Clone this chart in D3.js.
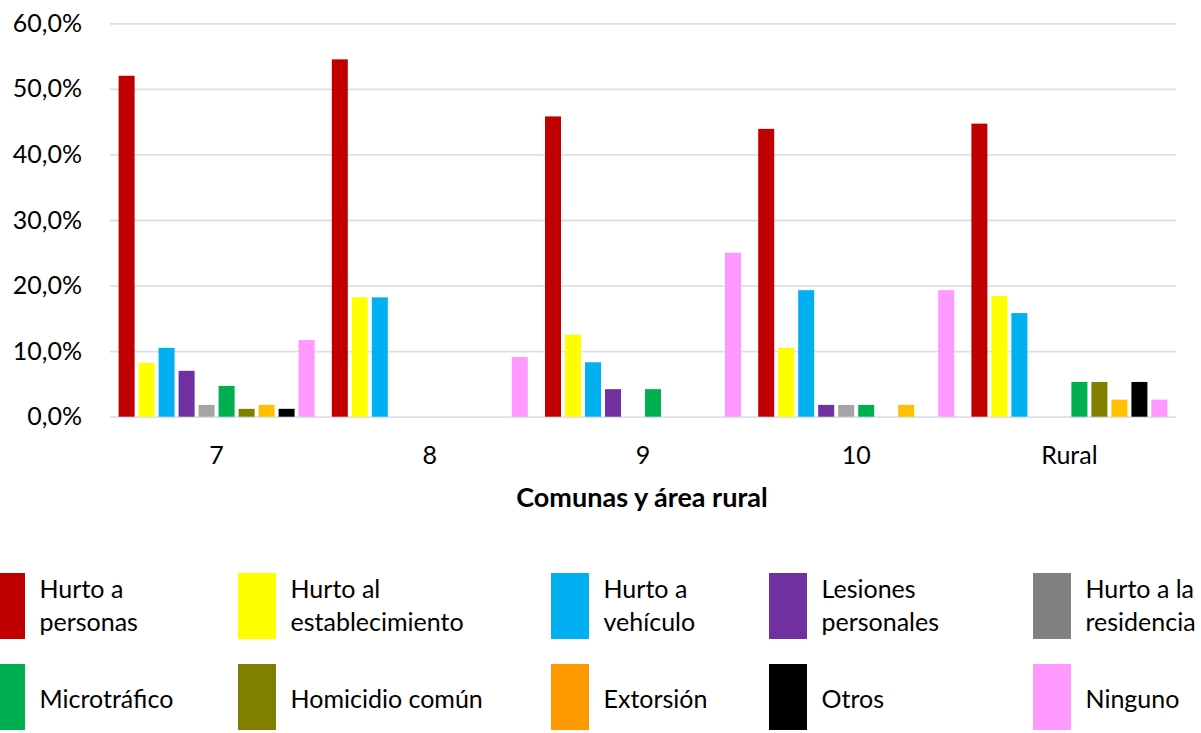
<!DOCTYPE html>
<html>
<head>
<meta charset="utf-8">
<script src="https://cdn.jsdelivr.net/npm/d3@7"></script>
<style>
  html, body { margin: 0; padding: 0; background: #fff; }
  svg { display: block; font-family: Lato, "Open Sans", sans-serif; }
</style>
</head>
<body>
<svg id="chart" width="1201" height="733"></svg>
<script>
// ---- Data ----
const categories = ["7", "8", "9", "10", "Rural"];
const seriesNames = [
  "Hurto a personas", "Hurto al establecimiento", "Hurto a vehículo",
  "Lesiones personales", "Hurto a la residencia", "Microtráfico",
  "Homicidio común", "Extorsión", "Otros", "Ninguno"
];
const hurtoPersonas        = [52.0, 54.5, 45.8, 43.9, 44.7];
const hurtoEstablecimiento = [8.2, 18.2, 12.5, 10.5, 18.4];
const hurtoVehiculo        = [10.5, 18.2, 8.3, 19.3, 15.8];
const lesionesPersonales   = [7.0, 0, 4.2, 1.8, 0];
const hurtoResidencia      = [1.8, 0, 0, 1.8, 0];
const microtrafico         = [4.7, 0, 4.2, 1.8, 5.3];
const homicidioComun       = [1.2, 0, 0, 0, 5.3];
const extorsion            = [1.8, 0, 0, 1.8, 2.6];
const otros                = [1.2, 0, 0, 0, 5.3];
const ninguno              = [11.7, 9.1, 25.0, 19.3, 2.6];
const yTicks = [0, 10, 20, 30, 40, 50, 60];
const xTitle = "Comunas y área rural";
const legendLines = [
  ["Hurto a", "personas"], ["Hurto al", "establecimiento"], ["Hurto a", "vehículo"],
  ["Lesiones", "personales"], ["Hurto a la", "residencia"],
  ["Microtráfico"], ["Homicidio común"], ["Extorsión"], ["Otros"], ["Ninguno"]
];

const seriesValues = [hurtoPersonas, hurtoEstablecimiento, hurtoVehiculo,
  lesionesPersonales, hurtoResidencia, microtrafico, homicidioComun,
  extorsion, otros, ninguno];

// ---- Styles ----
const barColors = ["#C00000", "#FFFF00", "#00B0F0", "#7030A0", "#A5A5A5",
  "#00B050", "#808000", "#FFC000", "#000000", "#FF99FF"];
const legendColors = ["#C00000", "#FFFF00", "#00B0F0", "#7030A0", "#808080",
  "#00B050", "#808000", "#FF9900", "#000000", "#FF99FF"];

const svg = d3.select("#chart");
const plot = { left: 110, right: 1176, top: 23.3, bottom: 416.7 };
const fontSize = 25;

const x0 = d3.scaleBand().domain(categories).range([plot.left, plot.right]).padding(0);
const bw = x0.bandwidth();
const x1 = d3.scaleBand().domain(seriesNames).range([6.6, bw - 6.6])
  .paddingInner(0.2).paddingOuter(0.1);
const y = d3.scaleLinear().domain([0, 60]).range([plot.bottom, plot.top]);

const locale = d3.formatLocale({ decimal: ",", thousands: ".", grouping: [3], currency: ["", ""] });
const fmt = v => locale.format(".1f")(v) + "%";

// gridlines
const yAxis = d3.axisLeft(y).tickValues(yTicks).tickFormat(fmt)
  .tickSize(-(plot.right - plot.left)).tickPadding(28);
const gy = svg.append("g").attr("transform", `translate(${plot.left},0)`).call(yAxis);
gy.select(".domain").remove();
gy.selectAll(".tick line").attr("stroke", "#DCDFE6").attr("stroke-width", 1.8);
gy.selectAll(".tick text").attr("font-size", fontSize).attr("fill", "#000")
  .attr("font-family", "Lato, sans-serif");

// bars
const groups = svg.append("g").selectAll("g").data(categories).join("g")
  .attr("transform", d => `translate(${x0(d)},0)`);
groups.selectAll("rect")
  .data((c, ci) => seriesNames.map((s, si) => ({ s, si, v: seriesValues[si][ci] })))
  .join("rect")
  .filter(d => d.v > 0)
  .attr("x", d => x1(d.s))
  .attr("width", x1.bandwidth())
  .attr("y", d => y(d.v))
  .attr("height", d => y(0) - y(d.v))
  .attr("fill", d => barColors[d.si]);

// x axis labels
const xAxis = d3.axisBottom(x0).tickSize(0).tickPadding(0);
const gx = svg.append("g").attr("transform", `translate(0,${plot.bottom})`).call(xAxis);
gx.select(".domain").remove();
gx.selectAll(".tick text").attr("font-size", fontSize).attr("fill", "#000")
  .attr("font-family", "Lato, sans-serif").attr("dy", null).attr("y", 47);

// x title
svg.append("text").attr("x", (plot.left + plot.right) / 2 - 1).attr("y", 507)
  .attr("text-anchor", "middle").attr("font-size", 27).attr("font-weight", "bold")
  .text(xTitle);

// legend
const legLeft = [-13, 238, 551, 769, 1033];
const legRowTop = [573, 664];
const leg = svg.append("g").selectAll("g").data(seriesNames).join("g")
  .attr("transform", (d, i) => `translate(${legLeft[i % 5]},${legRowTop[Math.floor(i / 5)]})`);
leg.append("rect").attr("width", 38).attr("height", 66)
  .attr("fill", (d, i) => legendColors[i]);
leg.each(function (d, i) {
  const lines = legendLines[i];
  const t = d3.select(this).append("text").attr("font-size", fontSize).attr("fill", "#000");
  if (lines.length === 2) {
    t.append("tspan").attr("x", 52.5).attr("y", 25).text(lines[0]);
    t.append("tspan").attr("x", 52.5).attr("y", 58).text(lines[1]);
  } else {
    t.append("tspan").attr("x", 52.5).attr("y", 44).text(lines[0]);
  }
});
</script>
</body>
</html>
